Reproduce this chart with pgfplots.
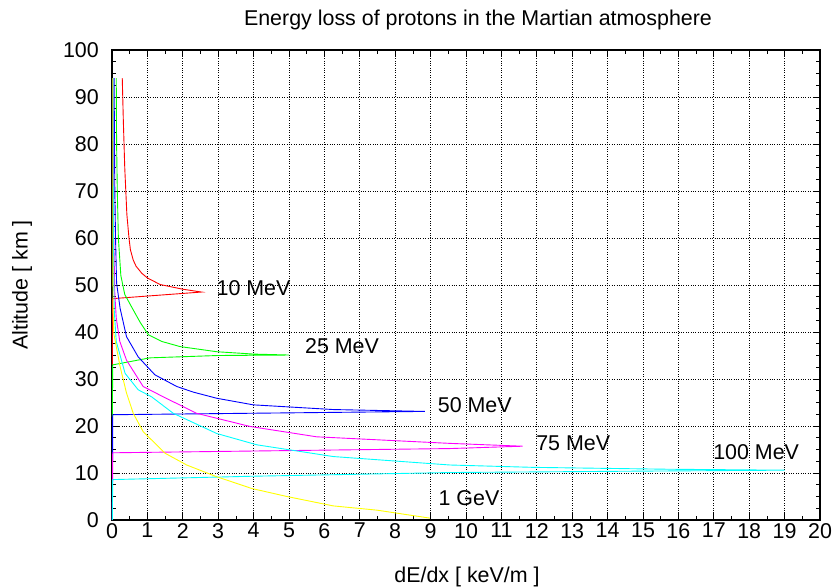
\documentclass[border=0pt]{standalone}
\usepackage{pgfplots}
\pgfplotsset{compat=1.18}
\usepackage{fontspec}
\setmainfont{Liberation Sans}
\definecolor{gred}{RGB}{255,0,0}
\definecolor{ggreen}{RGB}{0,255,0}
\definecolor{gblue}{RGB}{0,0,255}
\definecolor{gmagenta}{RGB}{255,0,255}
\definecolor{gcyan}{RGB}{0,255,255}
\definecolor{gyellow}{RGB}{255,255,0}
\begin{document}
\fontsize{21.5}{25}\selectfont
\begin{tikzpicture}[x=1bp,y=1bp]
\path[use as bounding box] (-112,-67) rectangle (724,520);
\begin{axis}[at={(0,0)}, anchor=south west, scale only axis,
  width=708bp, height=470bp,
  xmin=0, xmax=20, ymin=0, ymax=100,
  xtick={0,1,...,20}, ytick={0,10,...,100},
  minor x tick num=1, minor y tick num=3,
  grid=major, major grid style={black, dotted, line width=0.7bp},
  tick align=inside, major tick length=7bp, minor tick length=4bp,
  axis line style={line width=1.1bp},
  tick style={black, line width=0.8bp},
  ticklabel style={font=\fontsize{21.5}{25}\selectfont},
  xticklabel style={inner sep=1bp, yshift=-2bp},
  yticklabel style={inner sep=1bp, xshift=-12bp},
  /pgf/number format/assume math mode=true,
  every axis plot/.append style={line width=0.9bp},
  clip=false,
]
% 10 MeV
\addplot[gred] coordinates {(0.29,94) (0.32,85) (0.36,75) (0.42,65) (0.48,60) (0.52,57.5) (0.6,55.3) (0.68,54) (0.84,52.5) (1.0,51.5) (1.36,50.1) (2.0,49.1) (2.53,48.5) (0.02,47.1) (0.01,33)};
% 25 MeV
\addplot[ggreen] coordinates {(0.12,94) (0.13,80) (0.15,70) (0.18,60) (0.25,52) (0.36,48) (0.6,44.7) (0.8,42) (1.03,39.4) (1.4,38) (1.92,36.9) (2.96,35.8) (4.0,35.3) (5.0,35.1) (3.0,35.0) (1.07,34.5) (0.02,33.0) (0.01,22)};
% 50 MeV
\addplot[gblue] coordinates {(0.06,94) (0.07,80) (0.08,70) (0.1,60) (0.13,50.4) (0.23,45) (0.41,39) (0.74,34.7) (1.21,30.9) (1.83,28.4) (2.3,27.2) (2.96,25.9) (3.99,24.5) (6.25,23.5) (8.84,23.1) (0.02,22.4) (0.01,0)};
% 75 MeV
\addplot[gmagenta] coordinates {(0.04,94) (0.05,60) (0.08,48) (0.12,43) (0.22,38) (0.41,34) (0.88,28.4) (1.45,26.2) (2.39,22.7) (3.9,19.9) (5.78,17.7) (9.55,16.3) (11.6,15.7) (9.55,15.2) (0.02,14.3) (0.01,0)};
% 100 MeV
\addplot[gcyan] coordinates {(0.03,94) (0.04,60) (0.06,45) (0.12,38) (0.37,31.2) (0.74,27.7) (1.12,26.2) (1.73,22.7) (2.96,18.4) (4.09,16) (6.25,13.5) (9.55,11.7) (11.9,11.2) (15.7,10.8) (19.0,10.6) (15.0,10.4) (9.55,10.1) (3.9,9.3) (0.02,8.6) (0.01,0)};
% 1 GeV
\addplot[gyellow] coordinates {(0.02,94) (0.02,60) (0.03,45) (0.05,39.7) (0.23,32.6) (0.41,27) (0.6,22.7) (0.88,18.8) (1.5,14.2) (2.11,11.7) (2.96,9.2) (3.95,6.7) (4.94,5.0) (6.25,3.0) (7.48,2.1) (8.98,0.4)};
\node[anchor=west, inner sep=0pt] at (axis cs:2.95,49.4) {10 MeV};
\node[anchor=west, inner sep=0pt] at (axis cs:5.45,37.0) {25 MeV};
\node[anchor=west, inner sep=0pt] at (axis cs:9.2,24.5) {50 MeV};
\node[anchor=west, inner sep=0pt] at (axis cs:11.98,16.4) {75 MeV};
\node[anchor=west, inner sep=0pt] at (axis cs:16.98,14.5) {100 MeV};
\node[anchor=west, inner sep=0pt] at (axis cs:9.22,4.6) {1 GeV};
\end{axis}
\node at (366,500) {Energy loss of protons in the Martian atmosphere};
\node at (355,-57) {dE/dx [ keV/m ]};
\node[rotate=90] at (-90,235) {Altitude [ km ]};
\end{tikzpicture}
\end{document}
